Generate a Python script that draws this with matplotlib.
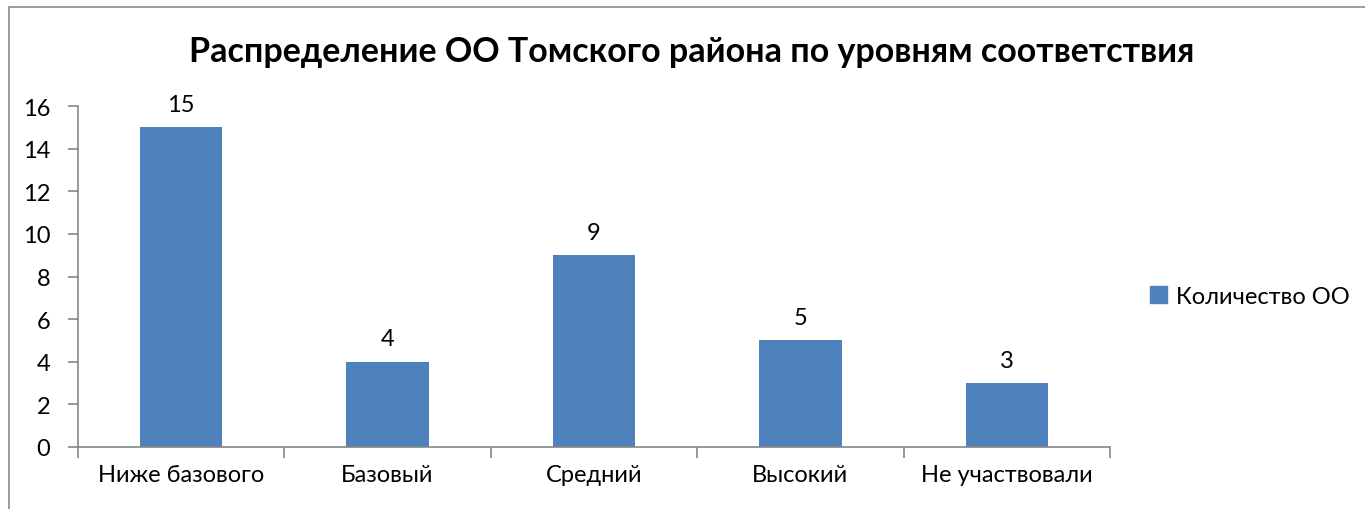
import matplotlib
matplotlib.use("Agg")
import matplotlib.pyplot as plt
from matplotlib.patches import Rectangle, Patch

categories = ["Ниже базового", "Базовый", "Средний", "Высокий", "Не участвовали"]
values = [15, 4, 9, 5, 3]
series_name = "Количество ОО"
title = "Распределение ОО Томского района по уровням соответствия"
yticks = [0, 2, 4, 6, 8, 10, 12, 14, 16]

plt.rcParams['font.family'] = ['Lato', 'DejaVu Sans']
bar_color = "#4F81BD"
axis_color = "#868686"

fig = plt.figure(figsize=(13.65, 5.1), dpi=100)
ax = fig.add_axes([78/1365, 1-448/510, (1110-78)/1365, (448-107)/510])

x = list(range(len(categories)))
bars = ax.bar(x, values, width=0.4, color=bar_color, label=series_name, zorder=2)
for xi, v in zip(x, values):
    ax.annotate(str(v), (xi, v), xytext=(0, 9), textcoords="offset points",
                ha="center", va="bottom", fontsize=17, color="black")

ax.set_xlim(-0.5, len(categories) - 0.5)
ax.set_ylim(0, 16)
ax.set_yticks(yticks)
ax.set_yticklabels([str(t) for t in yticks], fontsize=17)
ax.set_xticks(x)
ax.set_xticklabels(categories, fontsize=17)
ax.tick_params(axis='x', length=0, pad=12)
ax.set_xticks([i - 0.5 for i in range(len(categories) + 1)], minor=True)
ax.tick_params(axis='x', which='minor', length=8, color=axis_color, width=1.2)
ax.tick_params(axis='y', length=7, color=axis_color, width=1.2, pad=13)
for s in ["top", "right"]:
    ax.spines[s].set_visible(False)
for s in ["left", "bottom"]:
    ax.spines[s].set_color(axis_color)
    ax.spines[s].set_linewidth(1.2)

fig.text(0.5 * (188 + 1195) / 1365, 1 - 52/510, title, ha="center", va="center",
         fontsize=24.5, fontweight="bold")

leg = fig.legend(handles=[Patch(color=bar_color, label=series_name)],
                 loc="center left", bbox_to_anchor=(1129/1365, 1 - 297/510),
                 frameon=False, fontsize=17, handlelength=0.7, handleheight=0.7,
                 handletextpad=0.4)

fig.patches.append(Rectangle((9/1365, -0.1), 1.2, 1 - 8/510 + 0.1,
                             transform=fig.transFigure, fill=False,
                             edgecolor="#8c8c8c", linewidth=1.2))

fig.savefig("out.png", dpi=100)
